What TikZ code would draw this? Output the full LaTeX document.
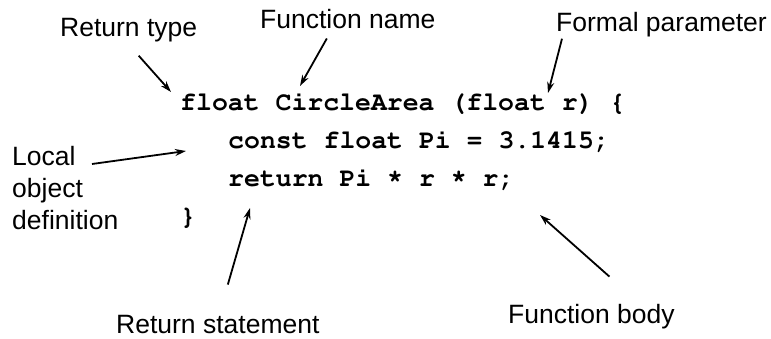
\documentclass[tikz,border=0pt]{standalone}
\usepackage{fontspec}
\setmainfont{Liberation Sans}
\newcommand{\codefont}{\fontencoding{T1}\fontfamily{pcr}\bfseries}
\newcommand{\codestar}{\raisebox{4pt}{*}}
\usetikzlibrary{arrows.meta}
\tikzstyle{labeltext} = [inner sep=0pt, anchor=base west, font=\fontsize{26.5}{32}\selectfont]
\tikzstyle{codeline} = [inner sep=0pt, anchor=base west, font=\codefont\fontsize{26.5}{38}\selectfont]
\tikzstyle{arrow} = [line width=1.8pt, -{Stealth[length=11pt,width=7pt]}]

\begin{document}
\begin{tikzpicture}[x=1pt, y=-1pt]
	\useasboundingbox (0,0) rectangle (771,339);

	% the function
	\node (line1) [codeline] at (180,111) {float CircleArea (float r) \{};
	\node (line2) [codeline] at (228,149) {const float Pi = 3.1415;};
	\node (line3) [codeline] at (228,187) {return Pi \codestar{} r \codestar{} r;};
	\node (line4) [codeline] at (180,225) {\}};

	% the parts
	\node (rtype) [labeltext] at (60,37) {Return type};
	\node (fname) [labeltext] at (260,29) {Function name};
	\node (fparam) [labeltext] at (556,32) {Formal parameter};
	\node (local) [labeltext, anchor=north west, align=left] at (12,146) {Local\\object\\definition};
	\node (rstmt) [labeltext] at (116,333) {Return statement};
	\node (fbody) [labeltext] at (508,323) {Function body};

	\coordinate (rtypetip) at (171,92);
	\coordinate (fnametip) at (300,86);
	\coordinate (fparamtip) at (548,93);
	\coordinate (localtip) at (186,151);
	\coordinate (rstmttip) at (250,208);
	\coordinate (fbodytip) at (540,215);

	\draw [arrow] ([shift={(10,13)}]rtype.south) -- (rtypetip);
	\draw [arrow] ([shift={(-21,9)}]fname.south) -- (fnametip);
	\draw [arrow] ([shift={(6,1)}]fparam.south west) -- (fparamtip);
	\draw [arrow] ([shift={(80,18)}]local.north west) -- (localtip);
	\draw [arrow] ([shift={(10,-30)}]rstmt.north) -- (rstmttip);
	\draw [arrow] ([shift={(18,-27)}]fbody.north) -- (fbodytip);
\end{tikzpicture}
\end{document}
